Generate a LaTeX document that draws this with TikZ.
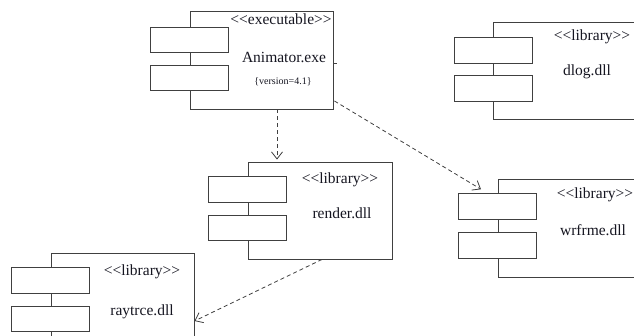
\documentclass[tikz,border=0pt]{standalone}
\usepackage{fontspec}
\setmainfont{Liberation Serif}
\usetikzlibrary{arrows.meta}
\definecolor{linec}{HTML}{404040}
\definecolor{txtc}{HTML}{151520}
\newcommand\stereo[1]{<\kern0pt<#1>\kern0pt>}
\tikzset{
  body/.style={draw=linec, line width=0.9pt, fill=white, inner sep=0pt, minimum width=#1},
  body/.default=143pt,
  tabbox/.style={draw=linec, line width=0.9pt, fill=white, inner sep=0pt, minimum width=78pt, minimum height=25.5pt},
  txt/.style={text=txtc, inner sep=0pt, font=\fontsize{15.5}{18}\selectfont},
  small/.style={text=txtc, inner sep=0pt, font=\fontsize{10}{12}\selectfont},
  dep/.style={draw=linec, line width=0.8pt, dash pattern=on 4pt off 3pt, -{Straight Barb[length=7pt,width=11pt,line width=0.8pt]}},
  tick/.style={draw=linec, line width=0.8pt}
}
\begin{document}
\begin{tikzpicture}[x=1pt,y=-1pt]
\clip (0,0) rectangle (634,336);
\fill[white] (0,0) rectangle (634,336);
% Animator.exe
\node[body, minimum height=98pt] (anim) at (261.5,60) {};
\node[tabbox] (at1) at (189,40) {};
\node[tabbox] (at2) at (189,78) {};
\node[txt] (anims) at (281,19) {\stereo{executable}};
\node[txt] (animn) at (284,57) {Animator.exe};
\node[small] (animv) at (283,82) {\{version=4.1\}};
\draw[tick] ([yshift=-3pt]anim.east) -- ++(4,0);
% dlog.dll
\node[body=160pt, minimum height=97pt] (dlog) at (573,70.5) {};
\node[tabbox] (dt1) at (493,50.5) {};
\node[tabbox] (dt2) at (493,88.5) {};
\node[txt] (dlogs) at (592,37) {\stereo{library}};
\node[txt] (dlogn) at (587,72) {dlog.dll};
% render.dll
\node[body=144pt, minimum height=97pt] (render) at (320,210.5) {};
\node[tabbox] (rt1) at (247.5,189.5) {};
\node[tabbox] (rt2) at (247.5,228) {};
\node[txt] (rends) at (340,180) {\stereo{library}};
\node[txt] (rendn) at (342,213) {render.dll};
% wrfrme.dll
\node[body=160pt, minimum height=98pt] (wrf) at (578,228) {};
\node[tabbox] (wt1) at (497.5,206.5) {};
\node[tabbox] (wt2) at (497.5,245.5) {};
\node[txt] (wrfs) at (595,195) {\stereo{library}};
\node[txt] (wrfn) at (593,230) {wrfrme.dll};
% raytrce.dll
\node[body=143pt, minimum height=97pt] (ray) at (122.5,301.5) {};
\node[tabbox] (yt1) at (50,280.5) {};
\node[tabbox] (yt2) at (50,319) {};
\node[txt] (rays) at (142,272) {\stereo{library}};
\node[txt] (rayn) at (142,312) {raytrce.dll};
% dependencies
\draw[dep] ([xshift=15.5pt]anim.south) -- ([xshift=-43pt,yshift=2pt]render.north);
\draw[dep] ([yshift=-41pt,xshift=1pt]anim.east) -- ([xshift=-16.5pt,yshift=4pt]wt1.north);
\draw[dep] ([xshift=2pt]render.south) -- ([yshift=-19.5pt]ray.east);
\end{tikzpicture}
\end{document}
